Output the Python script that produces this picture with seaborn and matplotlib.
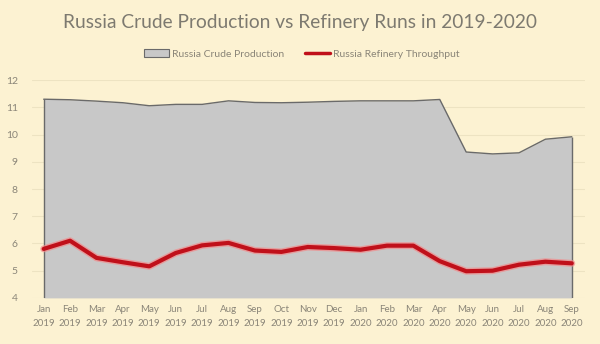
import matplotlib
matplotlib.use("Agg")
import matplotlib.pyplot as plt
import seaborn as sns
import pandas as pd
import numpy as np
from matplotlib.patches import Patch
from matplotlib.lines import Line2D

months = ["Jan", "Feb", "Mar", "Apr", "May", "Jun", "Jul", "Aug", "Sep", "Oct", "Nov", "Dec",
          "Jan", "Feb", "Mar", "Apr", "May", "Jun", "Jul", "Aug", "Sep"]
years = ["2019"] * 12 + ["2020"] * 9
crude_production = [11.30, 11.28, 11.23, 11.17, 11.06, 11.11, 11.11, 11.24, 11.18, 11.17, 11.19,
                    11.22, 11.24, 11.24, 11.24, 11.29, 9.36, 9.29, 9.33, 9.83, 9.92]
refinery_throughput = [5.80, 6.10, 5.47, 5.31, 5.16, 5.65, 5.93, 6.02, 5.74, 5.69, 5.87,
                       5.83, 5.77, 5.92, 5.92, 5.35, 4.98, 5.00, 5.22, 5.33, 5.27]

labels = [f"{m}\n{y}" for m, y in zip(months, years)]
df = pd.DataFrame({"idx": range(len(labels)), "label": labels,
                   "crude": crude_production, "refinery": refinery_throughput})

bg = "#FCF2D2"
txt = "#8A8578"
sns.set_theme(style="white")
plt.rcParams["font.family"] = ["Lato", "DejaVu Sans"]

fig = plt.figure(figsize=(6.0, 3.44), dpi=100, facecolor=bg)
ax = fig.add_axes([0.053, 0.134, 0.922, 0.633])
ax.set_facecolor(bg)

for v in range(4, 13):
    ax.axhline(v, color="#EDE3C2", lw=0.8, zorder=0)

ax.fill_between(df["idx"], 4, df["crude"], color="#C8C8C8", zorder=1, lw=0)
ax.vlines([df["idx"].iloc[0], df["idx"].iloc[-1]], 4, [df["crude"].iloc[0], df["crude"].iloc[-1]],
          color="#6A6A6A", lw=1.0, zorder=2)
sns.lineplot(data=df, x="idx", y="crude", ax=ax, color="#6A6A6A", lw=1.0, zorder=2)
sns.lineplot(data=df, x="idx", y="refinery", ax=ax, color="#F28A8A", lw=5.0, zorder=3, alpha=0.7)
sns.lineplot(data=df, x="idx", y="refinery", ax=ax, color="#C0101A", lw=3.0, zorder=4)

ax.set_xlim(-0.45, len(labels) - 0.5)
ax.set_ylim(4, 12)
ax.set_yticks(range(4, 13))
ax.set_xticks(df["idx"])
ax.set_xticklabels(labels, fontsize=7, color=txt, linespacing=1.75)
ax.tick_params(axis="y", labelsize=7.5, labelcolor=txt, pad=10, length=0)
ax.tick_params(axis="x", length=0, pad=5)
ax.set_xlabel("")
ax.set_ylabel("")
for s in ax.spines.values():
    s.set_visible(False)

fig.text(0.5, 0.935, "Russia Crude Production vs Refinery Runs in 2019-2020",
         ha="center", va="center", fontsize=13.8, color="#7D7A70")

handles = [Patch(facecolor="#C8C8C8", edgecolor="#6A6A6A", lw=0.8),
           Line2D([0], [0], color="#C0101A", lw=2.5)]
fig.legend(handles, ["Russia Crude Production", "Russia Refinery Throughput"],
           loc="center", bbox_to_anchor=(0.503, 0.843), ncol=2, frameon=False,
           fontsize=7.5, labelcolor=txt, handlelength=2.4, handletextpad=0.3,
           columnspacing=2.0)

fig.savefig("out.png", dpi=100, facecolor=bg)
